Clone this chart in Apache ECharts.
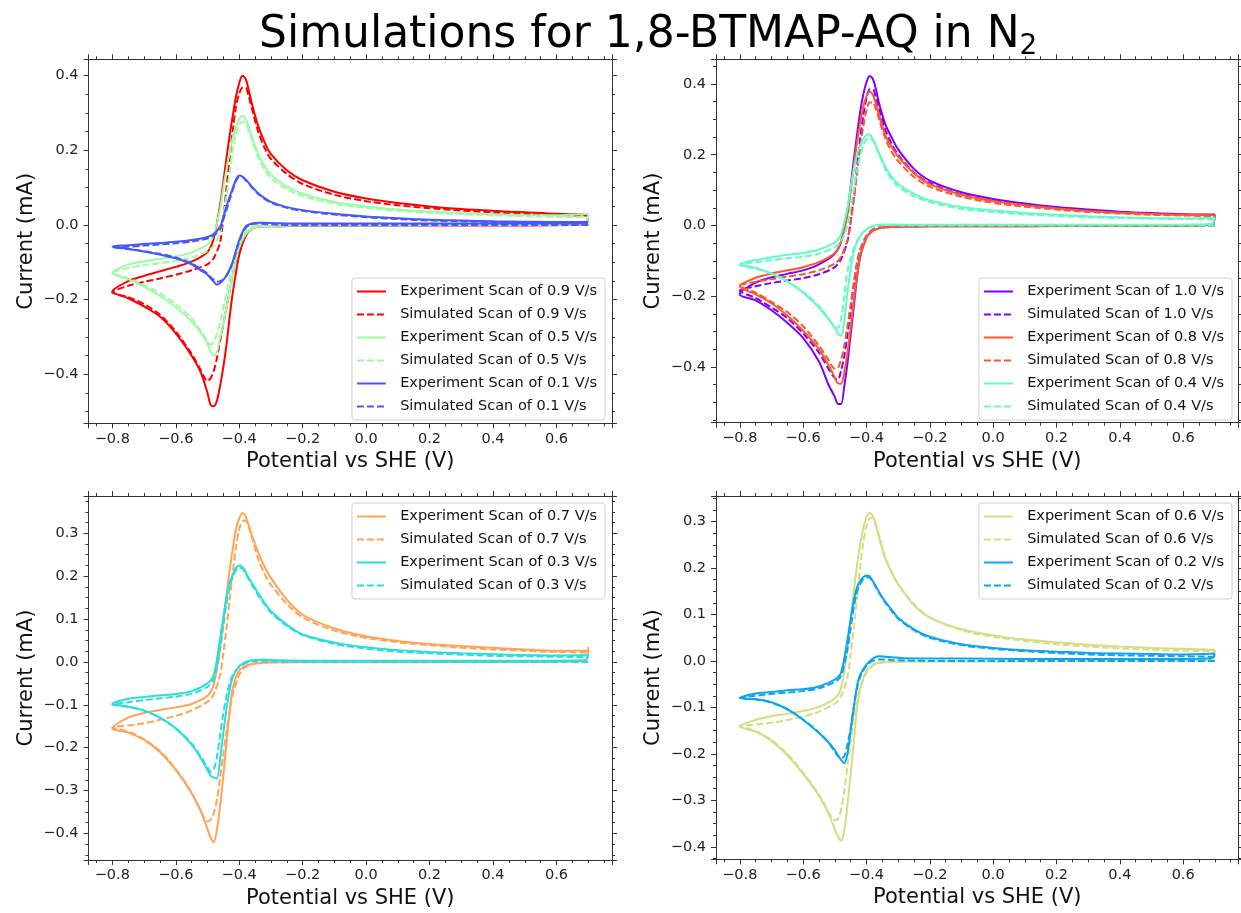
<!DOCTYPE html>
<html>
<head>
<meta charset="utf-8">
<title>Simulations for 1,8-BTMAP-AQ in N2</title>
<script src="https://cdn.jsdelivr.net/npm/echarts@6.0.0/dist/echarts.min.js"></script>
<style>
  html, body { margin: 0; padding: 0; background: #fff; }
  #chart { width: 1241px; height: 913px; }
</style>
</head>
<body>
<div id="chart"></div>
<script>
// potentials of the cathodic sweep (0.7 -> -0.8) and the anodic sweep (-0.8 -> 0.7)
const xDown = [0.7, 0.69, 0.5, 0.3, 0.1, -0.1, -0.2, -0.28, -0.32, -0.34, -0.36, -0.38, -0.40, -0.42, -0.43,
  -0.44, -0.45, -0.46, -0.47, -0.48, -0.49, -0.50, -0.52, -0.55, -0.60, -0.65, -0.70, -0.75, -0.80];
const xUp = [-0.80, -0.75, -0.70, -0.65, -0.60, -0.55, -0.50, -0.48, -0.46, -0.45, -0.44, -0.43, -0.42, -0.41,
  -0.40, -0.39, -0.38, -0.37, -0.36, -0.34, -0.32, -0.30, -0.25, -0.20, -0.10, 0.0, 0.1, 0.2, 0.3, 0.4, 0.5, 0.6, 0.7];

// panel 1 : 0.9, 0.5, 0.1 V/s
const exp09Down = [0.028, 0.002, -0.001, -0.001, -0.002, -0.002, -0.002, -0.003, -0.003, -0.004, -0.01, -0.03, -0.08, -0.18, -0.245, -0.32, -0.38, -0.43, -0.47, -0.485, -0.482, -0.45, -0.397, -0.35, -0.29, -0.245, -0.218, -0.196, -0.178];
const exp09Up = [-0.178, -0.15, -0.136, -0.124, -0.112, -0.098, -0.072, -0.035, 0.055, 0.115, 0.18, 0.24, 0.295, 0.345, 0.38, 0.4, 0.392, 0.362, 0.325, 0.265, 0.222, 0.19, 0.147, 0.12, 0.089, 0.071, 0.059, 0.05, 0.043, 0.038, 0.034, 0.03, 0.028];
const sim09Down = [0, 0, 0, 0, 0, 0, 0, -0.001, -0.002, -0.003, -0.008, -0.025, -0.065, -0.13, -0.175, -0.22, -0.265, -0.31, -0.355, -0.39, -0.41, -0.418, -0.39, -0.345, -0.285, -0.24, -0.212, -0.193, -0.18];
const sim09Up = [-0.18, -0.163, -0.152, -0.143, -0.133, -0.121, -0.105, -0.088, -0.045, 0.02, 0.1, 0.18, 0.255, 0.318, 0.352, 0.368, 0.368, 0.345, 0.312, 0.25, 0.207, 0.177, 0.137, 0.11, 0.081, 0.064, 0.053, 0.045, 0.039, 0.034, 0.03, 0.027, 0.025];
const exp05Down = [0.03, 0.003, 0.0, 0.0, -0.001, -0.001, -0.001, -0.002, -0.003, -0.004, -0.01, -0.025, -0.06, -0.13, -0.175, -0.22, -0.265, -0.30, -0.34, -0.35, -0.34, -0.318, -0.29, -0.258, -0.22, -0.19, -0.165, -0.145, -0.128];
const exp05Up = [-0.128, -0.106, -0.097, -0.091, -0.084, -0.073, -0.052, -0.025, 0.045, 0.1, 0.15, 0.195, 0.235, 0.265, 0.285, 0.293, 0.285, 0.262, 0.237, 0.19, 0.158, 0.135, 0.103, 0.084, 0.062, 0.05, 0.042, 0.036, 0.032, 0.029, 0.027, 0.026, 0.03];
const sim05Down = [0, 0, 0, 0, 0, 0, 0, -0.001, -0.001, -0.002, -0.006, -0.018, -0.045, -0.1, -0.14, -0.18, -0.22, -0.26, -0.29, -0.312, -0.32, -0.312, -0.285, -0.25, -0.212, -0.183, -0.16, -0.142, -0.128];
const sim05Up = [-0.128, -0.115, -0.108, -0.102, -0.096, -0.087, -0.07, -0.055, -0.02, 0.025, 0.08, 0.14, 0.2, 0.245, 0.268, 0.277, 0.272, 0.252, 0.228, 0.18, 0.148, 0.126, 0.096, 0.078, 0.057, 0.046, 0.038, 0.033, 0.029, 0.026, 0.024, 0.022, 0.021];
const exp01Down = [0.008, 0.005, 0.004, 0.004, 0.004, 0.004, 0.004, 0.005, 0.006, 0.006, 0.004, -0.004, -0.04, -0.097, -0.118, -0.135, -0.147, -0.155, -0.16, -0.152, -0.143, -0.133, -0.122, -0.105, -0.089, -0.079, -0.071, -0.064, -0.057];
const exp01Up = [-0.057, -0.054, -0.051, -0.048, -0.045, -0.04, -0.032, -0.024, -0.004, 0.022, 0.05, 0.076, 0.1, 0.122, 0.133, 0.13, 0.122, 0.113, 0.103, 0.085, 0.072, 0.062, 0.048, 0.04, 0.03, 0.023, 0.018, 0.014, 0.012, 0.01, 0.009, 0.008, 0.008];
const sim01Down = [0, 0, 0, 0, 0, 0, 0, 0.001, 0.003, 0.004, 0.002, -0.008, -0.045, -0.1, -0.12, -0.135, -0.145, -0.15, -0.152, -0.147, -0.14, -0.13, -0.118, -0.103, -0.087, -0.077, -0.07, -0.064, -0.06];
const sim01Up = [-0.06, -0.058, -0.055, -0.052, -0.049, -0.044, -0.036, -0.028, -0.01, 0.015, 0.04, 0.068, 0.095, 0.118, 0.128, 0.128, 0.12, 0.111, 0.101, 0.083, 0.07, 0.06, 0.046, 0.038, 0.028, 0.021, 0.016, 0.012, 0.01, 0.008, 0.007, 0.006, 0.005];

// panel 2 : 1.0, 0.8, 0.4 V/s
const exp10Down = [0.031, 0.002, -0.001, -0.001, -0.002, -0.002, -0.002, -0.003, -0.004, -0.005, -0.008, -0.015, -0.035, -0.09, -0.15, -0.23, -0.31, -0.39, -0.455, -0.505, -0.505, -0.485, -0.45, -0.385, -0.318, -0.275, -0.24, -0.212, -0.195];
const exp10Up = [-0.195, -0.162, -0.147, -0.137, -0.127, -0.11, -0.08, -0.045, 0.04, 0.11, 0.185, 0.255, 0.32, 0.37, 0.405, 0.423, 0.415, 0.385, 0.345, 0.285, 0.248, 0.215, 0.16, 0.127, 0.094, 0.075, 0.062, 0.052, 0.045, 0.039, 0.035, 0.032, 0.031];
const sim10Down = [0, 0, 0, 0, 0, 0, 0, -0.001, -0.001, -0.002, -0.005, -0.012, -0.03, -0.07, -0.11, -0.17, -0.24, -0.31, -0.37, -0.41, -0.436, -0.432, -0.405, -0.36, -0.305, -0.262, -0.232, -0.205, -0.185];
const sim10Up = [-0.185, -0.172, -0.163, -0.156, -0.149, -0.138, -0.118, -0.095, -0.045, 0.01, 0.08, 0.165, 0.245, 0.31, 0.36, 0.385, 0.385, 0.36, 0.33, 0.27, 0.23, 0.2, 0.15, 0.12, 0.088, 0.07, 0.058, 0.049, 0.042, 0.037, 0.033, 0.03, 0.028];
const exp08Down = [0.029, 0.002, -0.001, -0.001, -0.002, -0.002, -0.002, -0.003, -0.004, -0.005, -0.008, -0.015, -0.035, -0.09, -0.145, -0.215, -0.29, -0.36, -0.415, -0.448, -0.447, -0.43, -0.395, -0.35, -0.298, -0.255, -0.22, -0.195, -0.172];
const exp08Up = [-0.172, -0.148, -0.136, -0.127, -0.118, -0.104, -0.078, -0.045, 0.03, 0.095, 0.165, 0.235, 0.29, 0.335, 0.365, 0.378, 0.37, 0.345, 0.312, 0.255, 0.222, 0.195, 0.148, 0.117, 0.087, 0.069, 0.057, 0.048, 0.041, 0.036, 0.033, 0.03, 0.029];
const sim08Down = [0, 0, 0, 0, 0, 0, 0, -0.001, -0.001, -0.002, -0.005, -0.012, -0.03, -0.07, -0.105, -0.16, -0.225, -0.285, -0.34, -0.38, -0.403, -0.405, -0.38, -0.34, -0.285, -0.245, -0.216, -0.19, -0.17];
const sim08Up = [-0.17, -0.16, -0.152, -0.145, -0.138, -0.127, -0.108, -0.088, -0.04, 0.01, 0.07, 0.145, 0.22, 0.28, 0.325, 0.348, 0.348, 0.328, 0.3, 0.245, 0.208, 0.182, 0.137, 0.11, 0.081, 0.064, 0.053, 0.045, 0.038, 0.034, 0.03, 0.028, 0.026];
const exp04Down = [0.022, 0.004, 0.002, 0.002, 0.002, 0.002, 0.002, 0.002, 0.003, 0.003, 0.002, -0.002, -0.01, -0.03, -0.048, -0.075, -0.125, -0.19, -0.27, -0.313, -0.305, -0.29, -0.265, -0.232, -0.19, -0.158, -0.136, -0.12, -0.11];
const exp04Up = [-0.11, -0.098, -0.09, -0.083, -0.078, -0.068, -0.048, -0.025, 0.05, 0.105, 0.16, 0.2, 0.225, 0.245, 0.255, 0.257, 0.245, 0.225, 0.205, 0.165, 0.138, 0.118, 0.089, 0.071, 0.052, 0.042, 0.035, 0.03, 0.026, 0.023, 0.021, 0.02, 0.022];
const sim04Down = [0, 0, 0, 0, 0, 0, 0, 0, 0.001, 0.001, 0.0, -0.003, -0.012, -0.03, -0.045, -0.065, -0.095, -0.13, -0.2, -0.265, -0.29, -0.287, -0.262, -0.228, -0.188, -0.158, -0.137, -0.122, -0.112];
const sim04Up = [-0.112, -0.104, -0.098, -0.093, -0.088, -0.08, -0.062, -0.045, 0.0, 0.05, 0.1, 0.155, 0.195, 0.228, 0.243, 0.247, 0.24, 0.222, 0.2, 0.158, 0.13, 0.11, 0.083, 0.066, 0.047, 0.038, 0.031, 0.027, 0.023, 0.021, 0.019, 0.018, 0.017];

// panel 3 : 0.7, 0.3 V/s
const exp07Down = [0.035, 0.002, 0.0, 0.0, -0.001, -0.001, -0.001, -0.001, -0.002, -0.003, -0.005, -0.009, -0.02, -0.06, -0.115, -0.19, -0.265, -0.335, -0.39, -0.42, -0.41, -0.39, -0.35, -0.306, -0.252, -0.21, -0.182, -0.165, -0.155];
const exp07Up = [-0.155, -0.13, -0.119, -0.112, -0.106, -0.098, -0.079, -0.052, 0.035, 0.095, 0.155, 0.215, 0.265, 0.31, 0.335, 0.347, 0.34, 0.318, 0.295, 0.255, 0.222, 0.196, 0.145, 0.11, 0.078, 0.06, 0.049, 0.042, 0.037, 0.033, 0.029, 0.026, 0.026];
const sim07Down = [0, 0, 0, 0, 0, 0, 0, -0.001, -0.001, -0.002, -0.005, -0.012, -0.03, -0.075, -0.115, -0.16, -0.215, -0.27, -0.32, -0.352, -0.368, -0.372, -0.35, -0.305, -0.25, -0.208, -0.18, -0.163, -0.152];
const sim07Up = [-0.152, -0.148, -0.143, -0.135, -0.126, -0.113, -0.093, -0.075, -0.03, 0.02, 0.08, 0.145, 0.21, 0.27, 0.31, 0.328, 0.33, 0.315, 0.29, 0.24, 0.205, 0.18, 0.135, 0.104, 0.073, 0.056, 0.046, 0.039, 0.033, 0.029, 0.026, 0.023, 0.022];
const exp03Down = [0.016, 0.004, 0.003, 0.003, 0.003, 0.003, 0.003, 0.004, 0.005, 0.005, 0.004, 0.0, -0.01, -0.035, -0.065, -0.11, -0.165, -0.225, -0.272, -0.27, -0.265, -0.252, -0.226, -0.193, -0.155, -0.13, -0.113, -0.104, -0.098];
const exp03Up = [-0.098, -0.086, -0.082, -0.078, -0.075, -0.068, -0.05, -0.03, 0.055, 0.105, 0.15, 0.185, 0.205, 0.22, 0.225, 0.222, 0.21, 0.196, 0.184, 0.16, 0.138, 0.118, 0.087, 0.064, 0.045, 0.034, 0.027, 0.023, 0.02, 0.018, 0.016, 0.015, 0.016];
const sim03Down = [0, 0, 0, 0, 0, 0, 0, 0.001, 0.002, 0.002, 0.002, -0.003, -0.012, -0.03, -0.05, -0.08, -0.12, -0.17, -0.22, -0.25, -0.256, -0.245, -0.222, -0.19, -0.155, -0.13, -0.114, -0.105, -0.1];
const sim03Up = [-0.1, -0.094, -0.089, -0.085, -0.081, -0.074, -0.058, -0.04, 0.03, 0.085, 0.135, 0.175, 0.198, 0.214, 0.22, 0.218, 0.207, 0.193, 0.18, 0.155, 0.134, 0.115, 0.084, 0.063, 0.042, 0.031, 0.024, 0.02, 0.017, 0.014, 0.013, 0.012, 0.011];

// panel 4 : 0.6, 0.2 V/s
const exp06Down = [0.024, 0.002, 0.0, 0.0, -0.001, -0.001, -0.001, -0.001, -0.002, -0.003, -0.004, -0.009, -0.022, -0.06, -0.105, -0.175, -0.245, -0.31, -0.365, -0.387, -0.378, -0.362, -0.328, -0.29, -0.243, -0.203, -0.172, -0.152, -0.141];
const exp06Up = [-0.141, -0.127, -0.119, -0.114, -0.108, -0.099, -0.081, -0.058, 0.025, 0.085, 0.15, 0.205, 0.25, 0.285, 0.31, 0.319, 0.312, 0.292, 0.265, 0.22, 0.19, 0.165, 0.12, 0.093, 0.068, 0.055, 0.046, 0.04, 0.035, 0.031, 0.028, 0.026, 0.024];
const sim06Down = [0, 0, 0, 0, 0, 0, 0, -0.001, -0.001, -0.002, -0.004, -0.01, -0.025, -0.06, -0.09, -0.125, -0.175, -0.225, -0.28, -0.32, -0.34, -0.343, -0.325, -0.288, -0.24, -0.2, -0.17, -0.151, -0.14];
const sim06Up = [-0.14, -0.137, -0.133, -0.127, -0.12, -0.109, -0.092, -0.075, -0.035, 0.015, 0.07, 0.135, 0.2, 0.255, 0.29, 0.307, 0.308, 0.293, 0.27, 0.222, 0.19, 0.166, 0.122, 0.094, 0.066, 0.052, 0.043, 0.036, 0.031, 0.027, 0.024, 0.022, 0.021];
const exp02Down = [0.015, 0.006, 0.004, 0.004, 0.004, 0.005, 0.005, 0.006, 0.008, 0.009, 0.01, 0.005, -0.008, -0.03, -0.055, -0.1, -0.15, -0.2, -0.22, -0.213, -0.203, -0.192, -0.175, -0.155, -0.127, -0.104, -0.089, -0.082, -0.08];
const exp02Up = [-0.08, -0.07, -0.067, -0.063, -0.061, -0.055, -0.04, -0.025, 0.045, 0.09, 0.13, 0.158, 0.172, 0.18, 0.184, 0.182, 0.172, 0.16, 0.148, 0.127, 0.11, 0.093, 0.068, 0.052, 0.036, 0.028, 0.023, 0.02, 0.017, 0.016, 0.015, 0.014, 0.016];
const sim02Down = [0, 0, 0, 0, 0, 0, 0, 0.001, 0.002, 0.003, 0.003, 0.0, -0.01, -0.035, -0.06, -0.1, -0.145, -0.18, -0.205, -0.21, -0.205, -0.195, -0.176, -0.154, -0.126, -0.104, -0.09, -0.083, -0.08];
const sim02Up = [-0.08, -0.075, -0.071, -0.068, -0.065, -0.059, -0.045, -0.032, 0.025, 0.07, 0.115, 0.148, 0.165, 0.176, 0.18, 0.179, 0.17, 0.158, 0.146, 0.125, 0.107, 0.091, 0.066, 0.05, 0.034, 0.026, 0.021, 0.017, 0.014, 0.012, 0.011, 0.01, 0.009];

// y range of each panel (matplotlib auto limits)
const yRanges = [[-0.531, 0.444], [-0.558, 0.470], [-0.462, 0.387], [-0.427, 0.355]];

// matplotlib "rainbow" colours for each scan rate
const rateColors = {
  '0.1': '#4757fb', '0.2': '#0ea4f0', '0.3': '#2bdddd', '0.4': '#63fbc3', '0.5': '#9cfba4',
  '0.6': '#d4dd80', '0.7': '#ffa457', '0.8': '#ff572c', '0.9': '#ff0000', '1.0': '#8000ff'
};

const panels = [
  [['0.9', exp09Down, exp09Up, sim09Down, sim09Up], ['0.5', exp05Down, exp05Up, sim05Down, sim05Up], ['0.1', exp01Down, exp01Up, sim01Down, sim01Up]],
  [['1.0', exp10Down, exp10Up, sim10Down, sim10Up], ['0.8', exp08Down, exp08Up, sim08Down, sim08Up], ['0.4', exp04Down, exp04Up, sim04Down, sim04Up]],
  [['0.7', exp07Down, exp07Up, sim07Down, sim07Up], ['0.3', exp03Down, exp03Up, sim03Down, sim03Up]],
  [['0.6', exp06Down, exp06Up, sim06Down, sim06Up], ['0.2', exp02Down, exp02Up, sim02Down, sim02Up]]
];

const FONT = 'DejaVu Sans';
const grids = [
  { left: 88.5, top: 59.3, width: 523.5, height: 364 },
  { left: 716, top: 59.3, width: 522.6, height: 363.4 },
  { left: 88.5, top: 496, width: 523.5, height: 364 },
  { left: 716, top: 496, width: 522.6, height: 363.3 }
];
const legendPos = [
  { right: 636, top: 278 }, { right: 9, top: 278 },
  { right: 636, top: 503 }, { right: 9, top: 503 }
];

function loop(down, up) {
  const pts = [];
  xDown.forEach((x, i) => pts.push([x, down[i]]));
  xUp.forEach((x, i) => pts.push([x, up[i]]));
  return pts;
}

function tickText(v) {
  if (Math.abs(v) < 1e-9) v = 0;
  return v.toFixed(1).replace('-', '\u2212');
}

const lineCol = '#333';
function axisBase(showLabel) {
  return {
    type: 'value',
    axisLine: { show: true, onZero: false, lineStyle: { color: lineCol, width: 1 } },
    axisTick: { show: true, length: 5, lineStyle: { color: lineCol } },
    minorTick: { show: true, splitNumber: 4, length: 3, lineStyle: { color: lineCol } },
    splitLine: { show: false },
    axisLabel: showLabel ? {
      formatter: tickText, showMinLabel: false, showMaxLabel: false,
      fontFamily: FONT, fontSize: 14.5, color: '#222'
    } : { show: false }
  };
}

const xAxis = [], yAxis = [], series = [], legend = [];
grids.forEach((g, i) => {
  const xb = axisBase(true);
  xAxis.push(Object.assign(xb, {
    gridIndex: i, position: 'bottom', min: -0.875, max: 0.775, splitNumber: 8,
    name: 'Potential vs SHE (V)', nameLocation: 'middle', nameGap: 28,
    nameTextStyle: { fontFamily: FONT, fontSize: 21, color: '#111' }
  }));
  xb.axisLabel.margin = 8;
  xAxis.push(Object.assign(axisBase(false), {
    gridIndex: i, position: 'top', min: -0.875, max: 0.775, splitNumber: 8
  }));
  const yb = axisBase(true);
  const split = i < 2 ? 5 : 8;
  yAxis.push(Object.assign(yb, {
    gridIndex: i, position: 'left', min: yRanges[i][0], max: yRanges[i][1], splitNumber: split,
    name: 'Current (mA)', nameLocation: 'middle', nameGap: i % 2 ? 52 : 51,
    nameTextStyle: { fontFamily: FONT, fontSize: 21, color: '#111' }
  }));
  yb.axisLabel.margin = 10;
  yAxis.push(Object.assign(axisBase(false), {
    gridIndex: i, position: 'right', min: yRanges[i][0], max: yRanges[i][1], splitNumber: split
  }));

  const names = [];
  panels[i].forEach(c => {
    const col = rateColors[c[0]];
    const en = 'Experiment Scan of ' + c[0] + ' V/s';
    const sn = 'Simulated Scan of ' + c[0] + ' V/s';
    names.push(en, sn);
    series.push({
      name: en, type: 'line', xAxisIndex: 2 * i, yAxisIndex: 2 * i,
      data: loop(c[1], c[2]), symbol: 'none', smooth: 0.3, color: col,
      lineStyle: { color: col, width: 2 }
    });
    series.push({
      name: sn, type: 'line', xAxisIndex: 2 * i, yAxisIndex: 2 * i,
      data: loop(c[3], c[4]), symbol: 'none', smooth: 0.3, color: col,
      lineStyle: { color: col, width: 2, type: [7, 3] }
    });
  });

  legend.push(Object.assign({
    data: names, orient: 'vertical', selectedMode: false,
    itemWidth: 29, itemHeight: 14, itemGap: 8, padding: [6, 8, 6, 4],
    backgroundColor: 'rgba(255,255,255,0.8)', borderColor: '#d0d0d0', borderWidth: 1, borderRadius: 3,
    itemStyle: { opacity: 0 },
    formatter: n => '  ' + n,
    textStyle: { fontFamily: FONT, fontSize: 14.5, color: '#111', lineHeight: 14 }
  }, legendPos[i]));
});

const chart = echarts.init(document.getElementById('chart'));
chart.setOption({
  backgroundColor: '#fff',
  animation: false,
  title: {
    text: '{m|Simulations for 1,8-BTMAP-AQ in N}{s|2}',
    left: 254, top: 6,
    textStyle: {
      fontWeight: 'normal',
      rich: {
        m: { fontFamily: FONT, fontSize: 44, fontWeight: 'normal', color: '#000', lineHeight: 50 },
        s: { fontFamily: FONT, fontSize: 28, fontWeight: 'normal', color: '#000', lineHeight: 30, verticalAlign: 'bottom' }
      }
    }
  },
  grid: grids,
  xAxis: xAxis,
  yAxis: yAxis,
  legend: legend,
  series: series
});
</script>
</body>
</html>
